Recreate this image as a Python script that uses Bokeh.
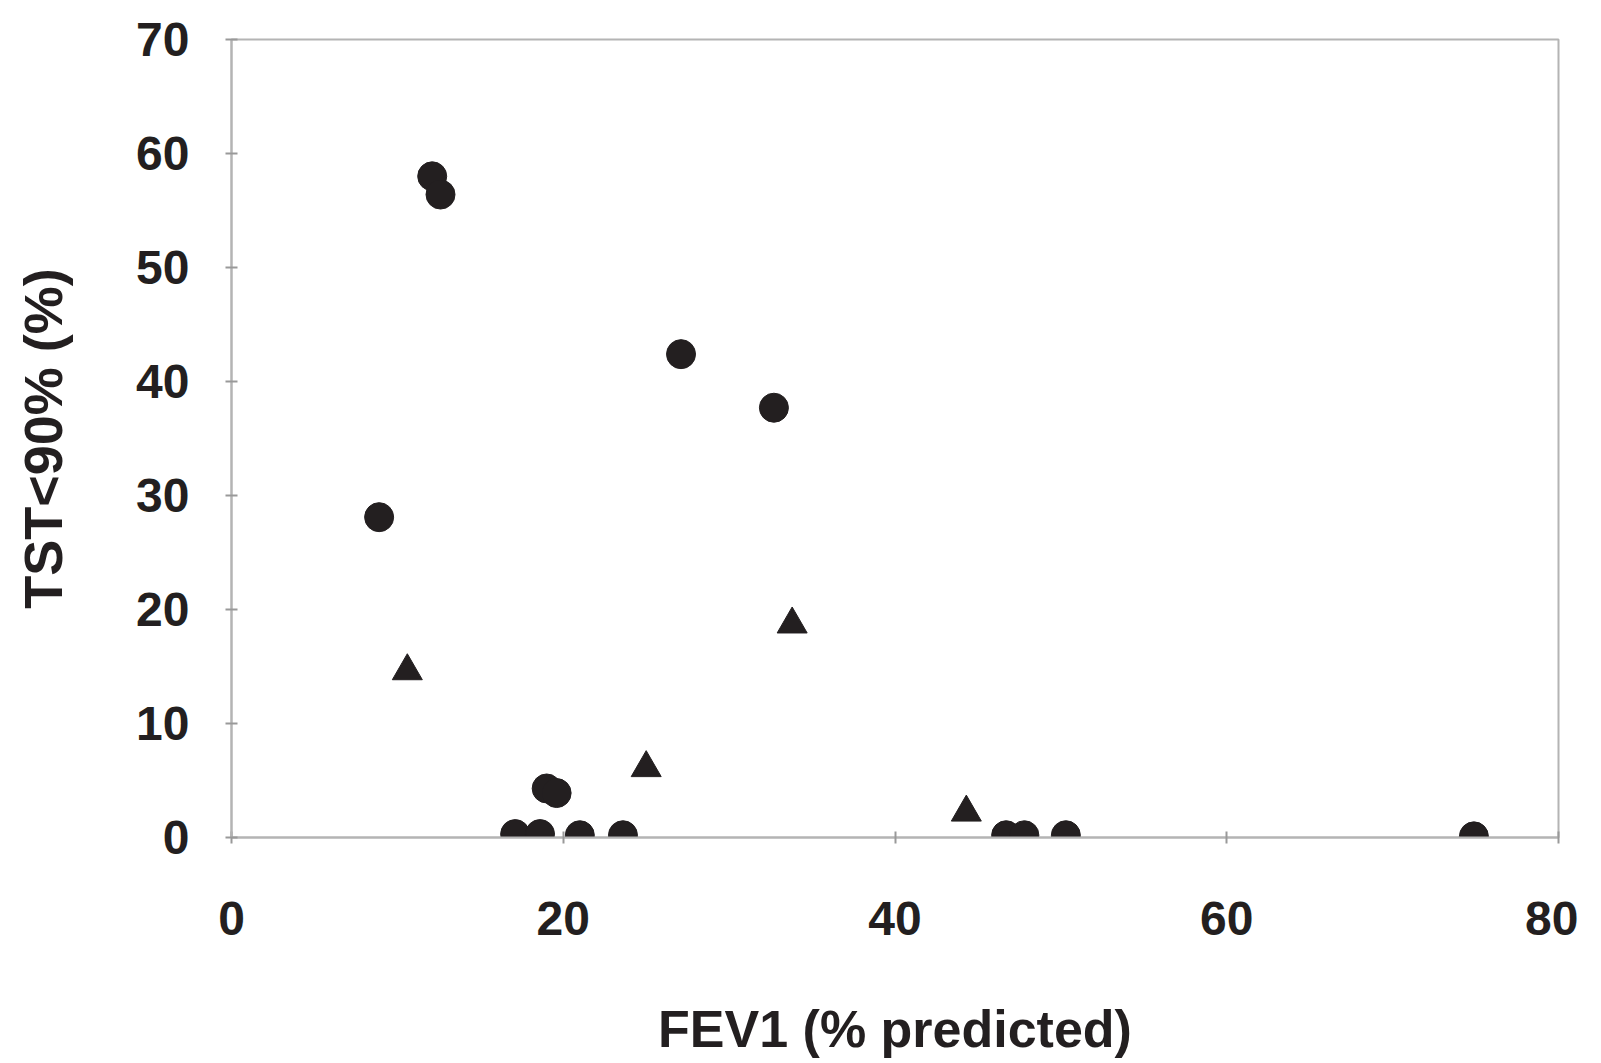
from bokeh.plotting import figure
from bokeh.models import Range1d, FixedTicker, ColumnDataSource
from bokeh.embed import file_html
from bokeh.resources import INLINE

# Data
circle_x = [8.9, 12.1, 12.6, 27.1, 32.7, 19.0, 19.6, 17.1, 18.6, 21.0, 23.6, 46.7, 47.8, 50.3, 74.9]
circle_y = [28.1, 58.0, 56.4, 42.4, 37.7, 4.3, 3.9, 0.3, 0.3, 0.2, 0.2, 0.2, 0.2, 0.2, 0.1]
tri_x = [10.6, 25.0, 33.8, 44.3]
tri_y = [14.6, 6.1, 18.7, 2.2]
x_ticks = [0, 20, 40, 60, 80]
y_ticks = [0, 10, 20, 30, 40, 50, 60, 70]
x_label = "FEV1 (% predicted)"
y_label = "TST<90% (%)"

INK = "#231f20"
GRAY = "#b4b4b4"

p = figure(frame_width=1327, frame_height=798,
           x_range=Range1d(0, 80), y_range=Range1d(0, 70),
           output_backend="svg", toolbar_location=None,
           min_border_left=231, min_border_top=39,
           min_border_right=20, min_border_bottom=195,
           background_fill_color="white", border_fill_color="white")

p.xgrid.visible = False
p.ygrid.visible = False
p.outline_line_color = GRAY
p.outline_line_width = 2

for ax in (p.xaxis[0], p.yaxis[0]):
    ax.axis_line_color = GRAY
    ax.axis_line_width = 2
    ax.major_tick_line_color = "#999999"
    ax.major_tick_line_width = 2
    ax.major_tick_in = 6
    ax.major_tick_out = 6
    ax.minor_tick_line_color = None
    ax.major_label_text_font = "Liberation Sans"
    ax.major_label_text_font_style = "bold"
    ax.major_label_text_font_size = "48px"
    ax.major_label_text_color = INK
    ax.axis_label_text_font = "Liberation Sans"
    ax.axis_label_text_font_style = "bold"
    ax.axis_label_text_font_size = "52px"
    ax.axis_label_text_color = INK

p.yaxis[0].axis_label_text_font_size = "54px"
p.xaxis[0].ticker = FixedTicker(ticks=x_ticks)
p.yaxis[0].ticker = FixedTicker(ticks=y_ticks)
p.xaxis[0].major_label_standoff = 58
p.yaxis[0].major_label_standoff = 36
p.xaxis[0].axis_label = x_label
p.yaxis[0].axis_label = y_label
p.xaxis[0].axis_label_standoff = 62
p.yaxis[0].axis_label_standoff = 60

csrc = ColumnDataSource(dict(x=circle_x, y=circle_y))
tsrc = ColumnDataSource(dict(x=tri_x, y=tri_y))
p.scatter("x", "y", source=csrc, marker="circle", size=29,
          fill_color=INK, line_color=INK)
p.scatter("x", "y", source=tsrc, marker="triangle", size=30,
          fill_color=INK, line_color=INK)

open("out.html", "w").write(file_html(p, INLINE))
